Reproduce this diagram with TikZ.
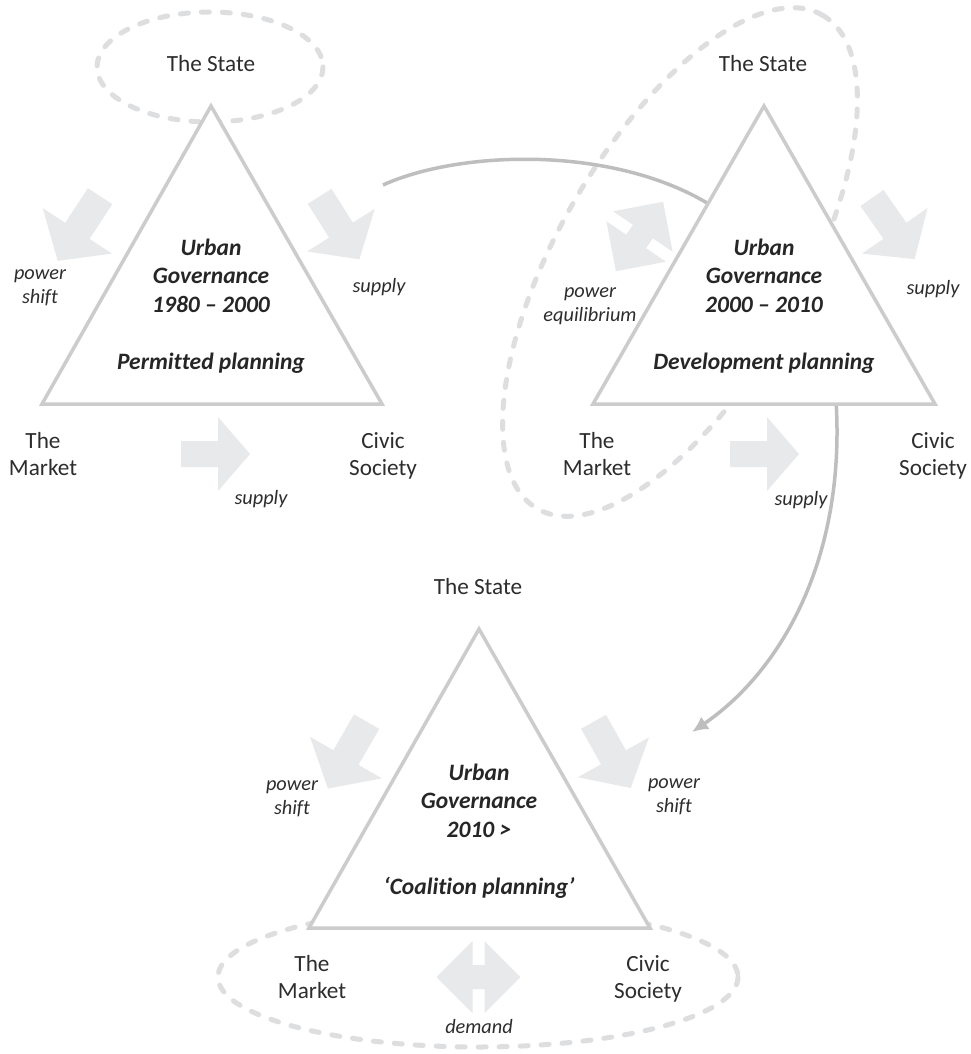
\documentclass[tikz,border=0pt]{standalone}
\usepackage{fontspec}
\setmainfont[Ligatures={TeX,NoCommon}]{Carlito}
\usetikzlibrary{arrows.meta}
\definecolor{linegray}{RGB}{204,204,204}
\definecolor{curvegray}{RGB}{190,190,190}
\definecolor{fillgray}{RGB}{232,233,235}
\definecolor{dashgray}{RGB}{221,222,224}
\definecolor{textgray}{RGB}{45,45,45}
\tikzset{
  actor/.style={align=center, text=textgray, inner sep=0pt,
    font=\fontsize{23.2}{27.5}\selectfont},
  flow/.style={align=center, text=textgray, inner sep=0pt,
    font=\fontsize{20.3}{24}\selectfont\itshape},
  era/.style={align=center, text=black!85, inner sep=0pt,
    font=\fontsize{23.5}{28.5}\selectfont\bfseries\itshape},
  tri/.style={draw=linegray, fill=white, line width=3.5pt},
  ring/.style={draw=dashgray, line width=5pt, line cap=round,
    dash pattern=on 8pt off 13pt},
  link/.style={draw=curvegray, line width=3.5pt},
  pics/onearrow/.style={code={
    \fill[fillgray] (-35,13) -- (2,13) -- (2,37) -- (34,0) -- (2,-37)
      -- (2,-13) -- (-35,-13) -- cycle;}},
  pics/twoarrow/.style={code={
    \fill[fillgray] (-42,0) -- (-6,36) -- (-6,12) -- (6,12) -- (6,36)
      -- (42,0) -- (6,-36) -- (6,-12) -- (-6,-12) -- (-6,-36) -- cycle;}},
}

\begin{document}
\begin{tikzpicture}[x=1pt, y=-1pt]
    \useasboundingbox[fill=white] (0,0) rectangle (971,1054);
    % dashed rings behind everything
    \draw[ring] (210,67) ellipse (113 and 55);
    \draw[ring, rotate around={60:(680,262)}] (680,262) ellipse (285 and 122);
    \draw[ring] (478,977) ellipse (260 and 70);
    % connectors between the eras
    \coordinate (arcstart) at (383,185);
    \coordinate (arcend) at (712,206);
    \coordinate (dropstart) at (836,400);
    \coordinate (dropend) at (692,732);
    \draw[link] (arcstart) .. controls (460,150) and (615,145) .. (arcend);
    \draw[link, -{Latex[length=16pt, width=15pt]}]
      (dropstart) .. controls (846,560) and (780,672) .. (dropend);
    % triangles
    \coordinate (apex1) at (211,106);
    \coordinate (left1) at (42,404);
    \coordinate (right1) at (382,404);
    \coordinate (apex2) at (764,106);
    \coordinate (left2) at (593,404);
    \coordinate (right2) at (935,404);
    \coordinate (apex3) at (479,629);
    \coordinate (left3) at (309,928);
    \coordinate (right3) at (650,928);
    \draw[tri] (apex1) -- (left1) -- (right1) -- cycle;
    \draw[tri] (apex2) -- (left2) -- (right2) -- cycle;
    \draw[tri] (apex3) -- (left3) -- (right3) -- cycle;
    % block arrows
    \foreach \x/\y/\a/\s in {78.6/229/236.7/1.12, 339.8/228.3/-57.7/1.08,
        216/454/0/1, 893.6/229/-55.1/1.08, 765/454/0/1,
        347/755.6/-120.1/1.12, 612.4/755.4/-60.7/1.1}
      \pic[rotate=\a, scale=\s] at (\x,\y) {onearrow};
    \pic[rotate=55.8] at (639.5,236.5) {twoarrow};
    \pic at (478.5,977) {twoarrow};
    % 1980 - 2000
    \node[actor] (state1) at (211,64) {The State};
    \node[actor] (market1) at (43,454) {The\\Market};
    \node[actor] (civic1) at (383,456) {Civic\\Society};
    \node[era] (gov1) at (211,306)
      {Urban\\Governance\\1980 – 2000\\[28.5pt]Permitted planning};
    \node[flow] (shift1) at (40,288) {power\\shift};
    \node[flow] (supply1a) at (379,287) {supply};
    \node[flow] (supply1b) at (261,499) {supply};
    % 2000 - 2010
    \node[actor] (state2) at (763,64) {The State};
    \node[actor] (market2) at (597,454) {The\\Market};
    \node[actor] (civic2) at (933,456) {Civic\\Society};
    \node[era] (gov2) at (764,306)
      {Urban\\Governance\\2000 – 2010\\[28.5pt]Development planning};
    \node[flow] (equil2) at (590,306) {power\\equilibrium};
    \node[flow] (supply2a) at (933,289) {supply};
    \node[flow] (supply2b) at (801,500) {supply};
    % 2010 >
    \node[actor] (state3) at (478,587) {The State};
    \node[actor] (market3) at (312,977) {The\\Market};
    \node[actor] (civic3) at (648,979) {Civic\\Society};
    \node[era] (gov3) at (479,831)
      {Urban\\Governance\\2010 >\\[28.5pt]‘Coalition planning’};
    \node[flow] (shift3a) at (292,799) {power\\shift};
    \node[flow] (shift3b) at (674,797) {power\\shift};
    \node[flow] (demand3) at (479,1027) {demand};
\end{tikzpicture}
\end{document}
